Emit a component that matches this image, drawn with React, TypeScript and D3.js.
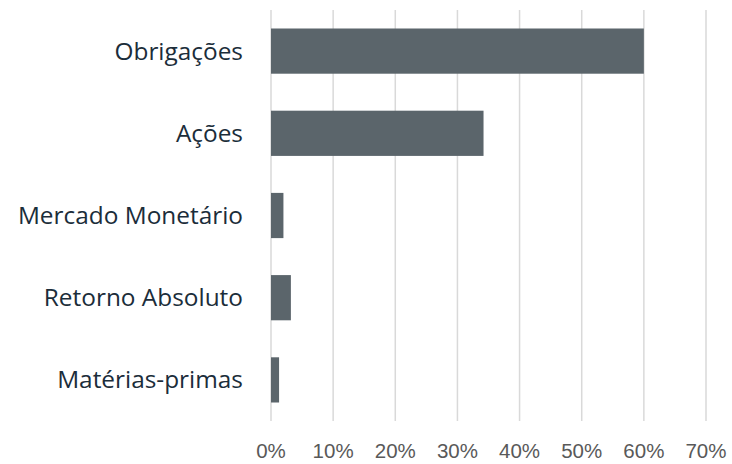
import React from 'react';
import * as d3 from 'd3';

const categories = ['Obrigações', 'Ações', 'Mercado Monetário', 'Retorno Absoluto', 'Matérias-primas'];
const values = [60.0, 34.2, 2.0, 3.2, 1.3];
const ticks = [0, 10, 20, 30, 40, 50, 60, 70];

const width = 732;
const height = 464;
const margin = { top: 10, right: 26, bottom: 43, left: 271 };

export default function App() {
  const x = d3.scaleLinear()
    .domain([0, 70])
    .range([margin.left, width - margin.right]);

  const y = d3.scaleBand()
    .domain(categories)
    .range([margin.top, height - margin.bottom])
    .paddingInner(0.45)
    .paddingOuter(0.225);

  return (
    <svg width={width} height={height} style={{ position: 'absolute', left: 0, top: 0 }}>
      <rect width={width} height={height} fill="#ffffff" />
      {ticks.map(t => (
        <g key={t}>
          <line
            x1={x(t)} x2={x(t)}
            y1={margin.top} y2={height - margin.bottom}
            stroke="#d9d9d9" strokeWidth={1.5}
          />
          <text
            x={x(t)} y={458}
            textAnchor="middle"
            fontFamily="'Liberation Sans', Arial, sans-serif"
            fontSize={20.5}
            fill="#595959"
          >
            {t}%
          </text>
        </g>
      ))}
      {categories.map((c, i) => (
        <g key={c}>
          <rect
            x={x(0)}
            y={y(c)}
            width={x(values[i]) - x(0)}
            height={y.bandwidth()}
            fill="#5b656b"
          />
          <text
            x={243}
            y={y(c)! + y.bandwidth() / 2}
            dy="0.35em"
            textAnchor="end"
            fontFamily="'Open Sans', sans-serif"
            fontSize={24.4}
            fill="#1b2d3a"
          >
            {c}
          </text>
        </g>
      ))}
    </svg>
  );
}
